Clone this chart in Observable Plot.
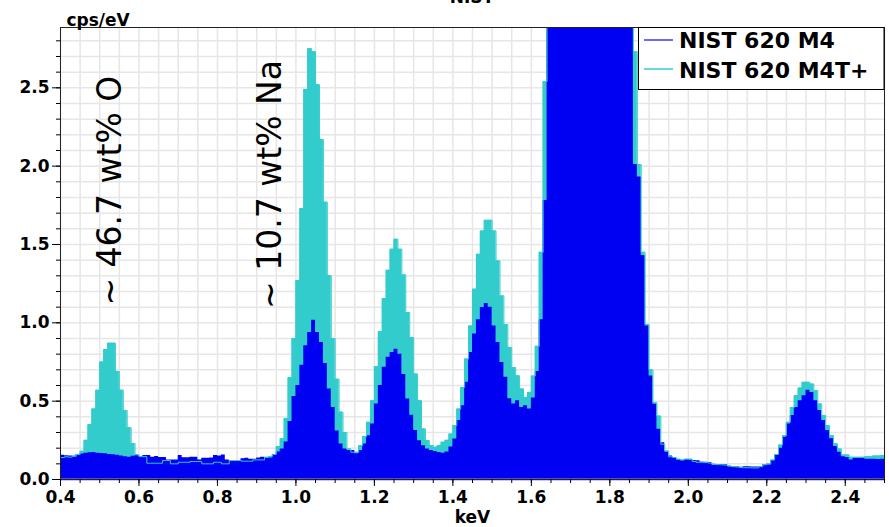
<!DOCTYPE html>
<html><head><meta charset="utf-8">
<script src="https://cdn.jsdelivr.net/npm/d3@7"></script>
<script src="https://cdn.jsdelivr.net/npm/@observablehq/plot@0.6"></script>
<style>
html,body{margin:0;padding:0;background:#fff;overflow:hidden}
#wrap{position:relative;width:889px;height:527px;overflow:hidden;font-family:"DejaVu Sans",sans-serif}
#title{position:absolute;left:0;width:944px;text-align:center;top:-13px;font-weight:bold;font-size:17px;line-height:20px}
#legend{position:absolute;left:638px;top:27px}
</style></head><body>
<div id="wrap"><div id="chart"></div><div id="title">NIST</div><div id="legend"></div></div>
<script>
// spectrum bins: 10 eV channels starting at 0.40 keV
const binStart = 0.40, binWidth = 0.01;
const seriesNames = ["NIST 620 M4", "NIST 620 M4T+"];
const seriesColors = ["#0000f2", "#33cccc"];

// NIST 620 M4 (cps/eV), one value per channel, 0.40 ... 2.50 keV
const m4 = [
  0.155,0.152,0.150,0.148,0.160,0.163,0.168,0.170,0.172,0.168, // 0.40
  0.166,0.164,0.160,0.158,0.155,0.150,0.145,0.142,0.148,0.152, // 0.50
  0.145,0.153,0.153,0.142,0.147,0.140,0.140,0.125,0.125,0.125, // 0.60
  0.153,0.139,0.139,0.142,0.142,0.125,0.135,0.135,0.138,0.153, // 0.70
  0.150,0.157,0.125,0.118,0.118,0.118,0.132,0.135,0.130,0.130, // 0.80
  0.138,0.142,0.137,0.137,0.160,0.175,0.195,0.240,0.370,0.530, // 0.90
  0.600,0.730,0.853,0.938,1.017,0.938,0.875,0.740,0.578,0.460, // 1.00
  0.310,0.227,0.195,0.185,0.185,0.164,0.185,0.227,0.280,0.355, // 1.10
  0.482,0.600,0.716,0.780,0.810,0.832,0.800,0.670,0.514,0.410, // 1.20
  0.312,0.248,0.215,0.195,0.185,0.178,0.172,0.168,0.175,0.207, // 1.30
  0.259,0.376,0.470,0.620,0.810,0.928,1.020,1.098,1.123,1.100, // 1.40
  0.980,0.875,0.747,0.652,0.515,0.482,0.503,0.460,0.470,0.450, // 1.50
  0.520,0.690,1.020,1.780,3.00,3.90,5.00,6.20,7.50,8.70,       // 1.60
  9.80,10.7,11.3,11.7,11.8,11.6,11.1,10.3,9.30,8.10,           // 1.70
  6.90,5.80,4.70,3.80,3.10,2.95,2.01,1.93,1.43,0.98,           // 1.80
  0.660,0.480,0.320,0.235,0.180,0.150,0.140,0.125,0.120,0.127, // 1.90
  0.125,0.121,0.120,0.110,0.110,0.108,0.098,0.096,0.095,0.094, // 2.00
  0.085,0.080,0.079,0.078,0.082,0.082,0.079,0.079,0.080,0.092, // 2.10
  0.097,0.120,0.155,0.200,0.270,0.355,0.408,0.460,0.503,0.535, // 2.20
  0.570,0.556,0.503,0.440,0.376,0.312,0.260,0.210,0.174,0.145, // 2.30
  0.140,0.125,0.136,0.136,0.136,0.130,0.130,0.130,0.128,0.130, // 2.40
  0.130                                                        // 2.50
];

// NIST 620 M4T+ (cps/eV)
const m4tPlus = [
  0.140,0.145,0.143,0.148,0.160,0.180,0.250,0.350,0.450,0.570, // 0.40
  0.750,0.830,0.870,0.870,0.690,0.570,0.440,0.330,0.230,0.159, // 0.50
  0.146,0.146,0.104,0.104,0.104,0.104,0.121,0.121,0.100,0.100, // 0.60
  0.110,0.110,0.110,0.115,0.115,0.115,0.100,0.100,0.100,0.110, // 0.70
  0.110,0.100,0.100,0.121,0.121,0.121,0.117,0.117,0.117,0.125, // 0.80
  0.125,0.125,0.142,0.146,0.160,0.210,0.260,0.390,0.650,0.900, // 0.90
  1.270,1.730,2.490,2.750,2.730,2.520,2.170,1.770,1.300,0.900, // 1.00
  0.640,0.430,0.300,0.195,0.174,0.174,0.217,0.274,0.365,0.503, // 1.10
  0.720,0.943,1.155,1.335,1.470,1.533,1.470,1.306,1.066,0.906, // 1.20
  0.673,0.503,0.323,0.248,0.217,0.206,0.217,0.238,0.250,0.290, // 1.30
  0.344,0.450,0.588,0.769,0.980,1.215,1.437,1.586,1.654,1.654, // 1.40
  1.586,1.395,1.172,0.990,0.843,0.715,0.662,0.578,0.524,0.556, // 1.50
  0.660,0.850,1.450,2.540,3.30,4.20,5.30,6.50,7.80,9.00,       // 1.60
  10.1,11.0,11.6,12.0,12.1,11.9,11.4,10.6,9.60,8.40,           // 1.70
  7.20,6.00,4.90,4.00,3.30,3.00,2.73,2.01,1.45,0.99,           // 1.80
  0.700,0.490,0.405,0.225,0.180,0.145,0.140,0.130,0.125,0.130, // 1.90
  0.130,0.115,0.110,0.110,0.108,0.105,0.096,0.095,0.094,0.092, // 2.00
  0.085,0.082,0.080,0.076,0.075,0.075,0.074,0.074,0.082,0.094, // 2.10
  0.098,0.125,0.160,0.220,0.280,0.365,0.460,0.535,0.584,0.620, // 2.20
  0.620,0.609,0.567,0.482,0.408,0.344,0.280,0.228,0.195,0.157, // 2.30
  0.157,0.142,0.142,0.142,0.142,0.146,0.146,0.150,0.150,0.153, // 2.40
  0.153                                                        // 2.50
];

const xTicks = [0.4, 0.6, 0.8, 1.0, 1.2, 1.4, 1.6, 1.8, 2.0, 2.2, 2.4];
const yTicks = [0.0, 0.5, 1.0, 1.5, 2.0, 2.5];
const xMinor = d3.range(0, 43).map(i => +(0.4 + i * 0.05).toFixed(2));
const yMinor = d3.range(0, 29).map(i => +(i * 0.1).toFixed(1));

const annotations = [
  {label: "~ 46.7 wt% O", e: 0.528, v: 1.844},
  {label: "~ 10.7 wt% Na", e: 0.936, v: 1.883}
];

function toSteps(vals) {
  const d = vals.map((v, i) => ({e: +(binStart + i * binWidth).toFixed(2), v}));
  d.push({e: +(binStart + vals.length * binWidth).toFixed(2), v: vals[vals.length - 1]});
  return d;
}
const blueData = toSteps(m4);
const cyanData = toSteps(m4tPlus);

const chart = Plot.plot({
  width: 889, height: 527,
  marginTop: 27, marginRight: 5, marginBottom: 48, marginLeft: 60,
  style: {fontFamily: "DejaVu Sans", fontSize: "17px", fontWeight: "bold", color: "#000", background: "#fff"},
  x: {domain: [0.4, 2.5], label: null},
  y: {domain: [0, 2.885], label: null},
  marks: [
    Plot.gridX(xMinor, {stroke: "#e6e6e6", strokeOpacity: 1, strokeWidth: 1.5}),
    Plot.gridY(yMinor, {stroke: "#e6e6e6", strokeOpacity: 1, strokeWidth: 1.5}),
    Plot.areaY(cyanData, {x: "e", y: "v", curve: "step-after", fill: seriesColors[1], clip: true}),
    Plot.areaY(blueData, {x: "e", y: "v", curve: "step-after", fill: seriesColors[0], clip: true}),
    Plot.lineY(cyanData, {x: "e", y: "v", curve: "step-after", stroke: seriesColors[1], strokeWidth: 1, clip: true}),
    Plot.ruleY([0], {stroke: "#9a9ad6", strokeWidth: 2}),
    Plot.frame({stroke: "#222"}),
    Plot.axisY(yMinor, {tickSize: 4, tickFormat: () => "", label: null}),
    Plot.axisY(yTicks, {tickSize: 8, tickPadding: 3, tickFormat: d => d.toFixed(1), label: null}),
    Plot.axisX(xMinor, {tickSize: 4, tickFormat: () => "", label: null}),
    Plot.axisX(xTicks, {tickSize: 7, tickPadding: 4, tickFormat: d => d.toFixed(1), label: null}),
    Plot.text(annotations, {x: "e", y: "v", text: "label", rotate: -90, fontSize: 33, fontWeight: "normal", fill: "#000"}),
    Plot.text(["cps/eV"], {frameAnchor: "top-left", text: d => d, lineAnchor: "bottom", dx: 6, dy: -2, fontSize: 17}),
    Plot.text(["keV"], {frameAnchor: "bottom", text: d => d, lineAnchor: "top", dy: 31, fontSize: 17})
  ]
});
document.getElementById("chart").appendChild(chart);

// legend box (top-right, overlapping the plot frame)
const lw = 247, lh = 63;
const leg = d3.select("#legend").append("svg").attr("width", lw).attr("height", lh);
leg.append("rect").attr("x", 0.5).attr("y", 0.5).attr("width", lw - 1.5).attr("height", lh - 1)
  .attr("fill", "#fff").attr("stroke", "#000");
seriesNames.forEach((name, i) => {
  const cy = 13 + i * 29;
  leg.append("line").attr("x1", 6).attr("x2", 35).attr("y1", cy).attr("y2", cy)
    .attr("stroke", i === 0 ? "#3a3af5" : seriesColors[1]).attr("stroke-width", 1.5);
  leg.append("text").attr("x", 41).attr("y", 21 + i * 30).text(name)
    .attr("font-family", "DejaVu Sans").attr("font-weight", "bold").attr("font-size", 22).attr("fill", "#000");
});
</script>
</body></html>
